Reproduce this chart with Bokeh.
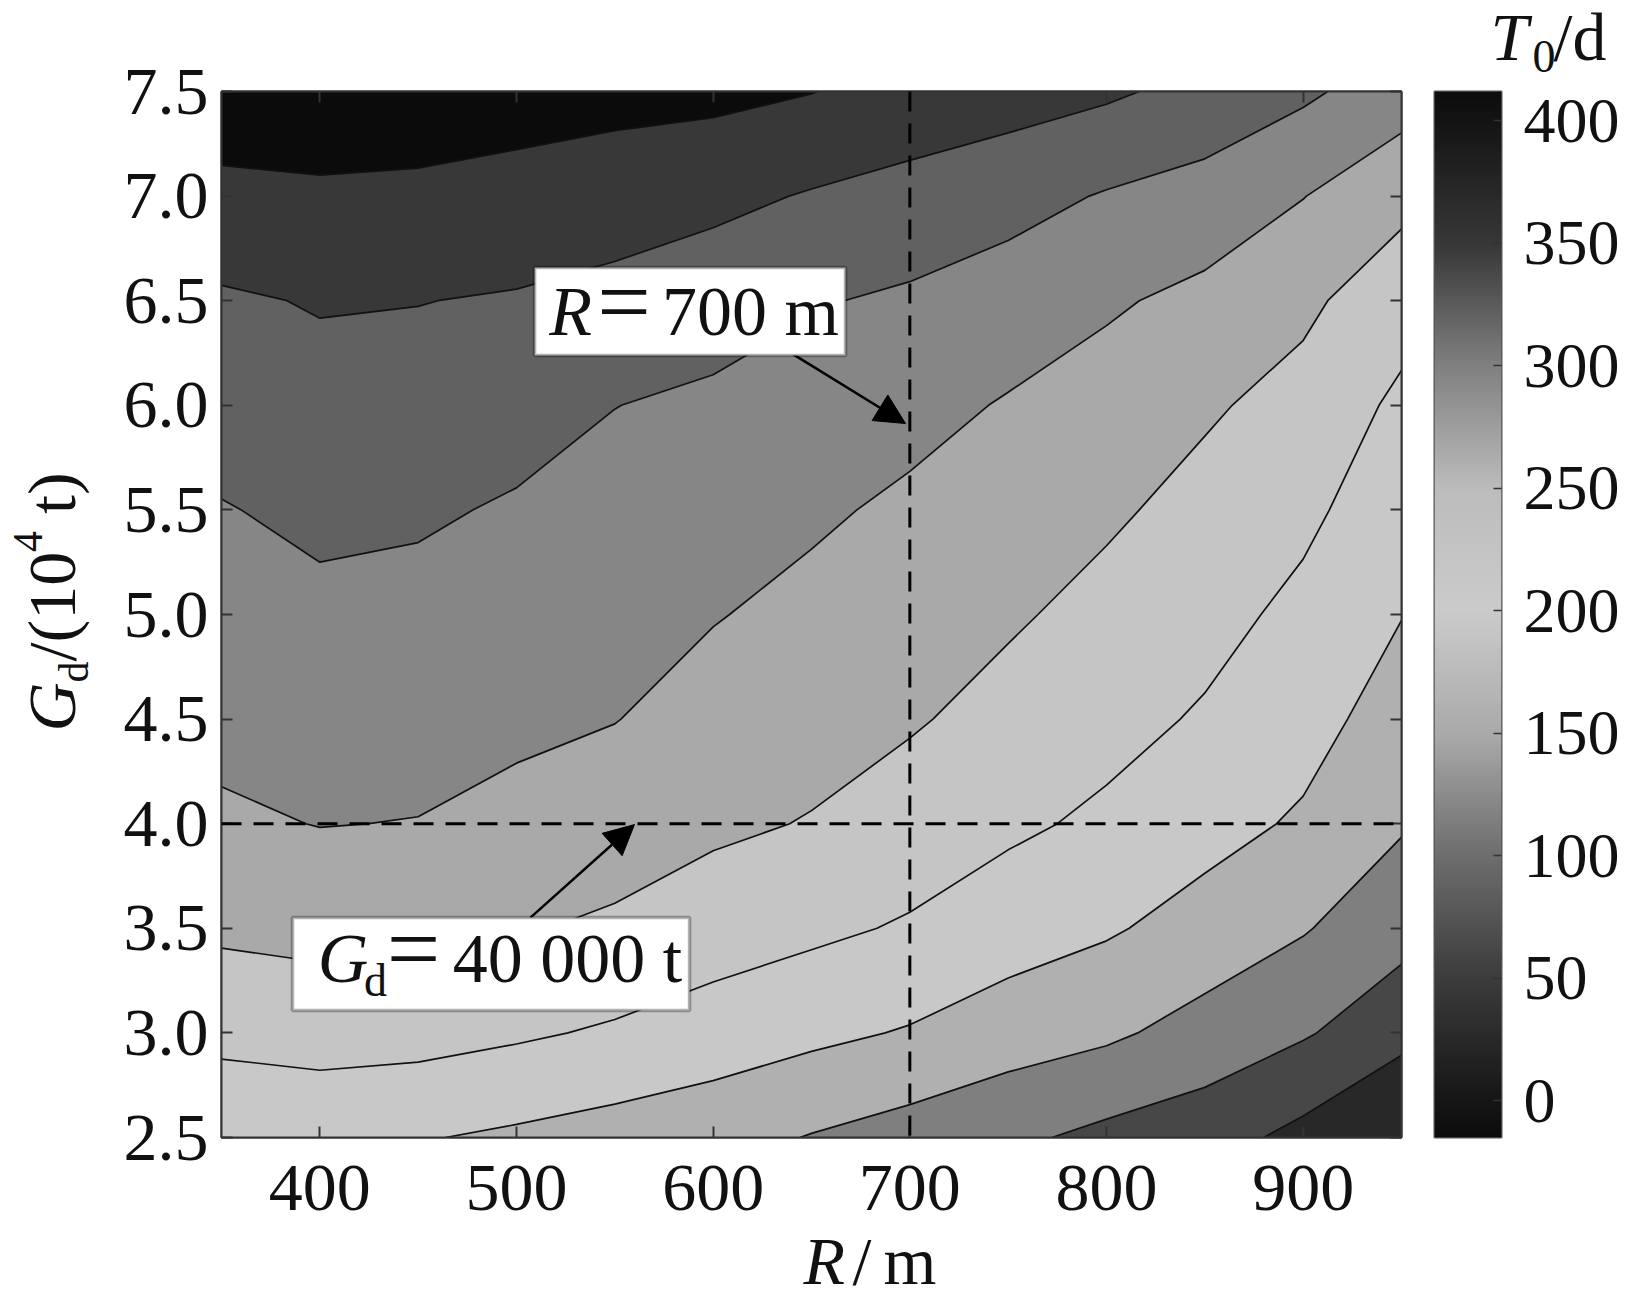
import numpy as np
from bokeh.plotting import figure
from bokeh.layouts import row, column
from bokeh.models import (Label, Span, Arrow, NormalHead, BoxAnnotation, LinearAxis,
                          FixedTicker, LinearColorMapper, Range1d)
from bokeh.embed import file_html
from bokeh.resources import INLINE

# ---------------- data ----------------
R_VALUES = [350, 400, 450, 500, 550, 600, 650, 700, 750, 800, 850, 900, 950]
GD_VALUES = [2.5, 3.0, 3.5, 4.0, 4.5, 5.0, 5.5, 6.0, 6.5, 7.0, 7.5]

# T0 (d) along each Gd row, for R = 350 ... 950
T0_GD_2_5 = [170, 173, 162.5, 153.5, 143.6, 135, 118, 103, 88, 70, 57, 28.6, -15]
T0_GD_3_0 = [210, 215, 214.5, 205.5, 195, 181, 169, 157, 139, 127, 105, 84, 55]
T0_GD_3_5 = [247, 252, 251, 243, 234, 220, 208, 196, 179, 164.5, 145, 123, 93]
T0_GD_4_0 = [274, 281, 279, 269, 259, 247, 238, 222, 207, 193, 173.5, 155, 124]
T0_GD_4_5 = [291, 296, 294, 288, 281, 265, 254, 244, 227, 212, 196, 174, 143]
T0_GD_5_0 = [305, 312, 309, 302, 294, 282, 270, 258.5, 245, 228.5, 212, 191, 161]
T0_GD_5_5 = [318, 328, 325, 316, 307, 298, 286, 273, 261, 246, 228, 208, 178]
T0_GD_6_0 = [337, 345, 342.5, 335, 320.5, 313, 304, 292, 277, 264, 245, 227, 192]
T0_GD_6_5 = [354, 363, 361, 356, 348, 337, 323, 314, 301, 285, 270, 248, 216]
T0_GD_7_0 = [395, 397, 396, 392, 380, 370, 357, 347, 334, 317, 304.5, 281, 251]
T0_GD_7_5 = [412, 412, 411, 410, 412, 410, 401, 385, 377, 366, 348, 327, 299]

LEVELS = [40, 80, 120, 160, 200, 240, 280, 320, 360, 400]
T0_MIN, T0_MAX = -15, 412

X_TICKS = [400, 500, 600, 700, 800, 900]
X_TICK_LABELS = ["400", "500", "600", "700", "800", "900"]
Y_TICKS = [2.5, 3.0, 3.5, 4.0, 4.5, 5.0, 5.5, 6.0, 6.5, 7.0, 7.5]
Y_TICK_LABELS = ["2.5", "3.0", "3.5", "4.0", "4.5", "5.0", "5.5", "6.0", "6.5", "7.0", "7.5"]
CB_TICKS = [0, 50, 100, 150, 200, 250, 300, 350, 400]
CB_TICK_LABELS = ["0", "50", "100", "150", "200", "250", "300", "350", "400"]

MARK_R = 700      # R = 700 m
MARK_GD = 4.0     # Gd = 40 000 t

# ---------------- styles / layout ----------------
FONT = "Liberation Serif"
INK = "#111111"
BAND_COLORS = ["#282828", "#474747", "#7f7f7f", "#b0b0b0", "#c8c8c8", "#c5c5c5",
               "#a9a9a9", "#868686", "#616161", "#383838", "#0b0b0b"]
CB_STOPS = [-15, 0, 50, 100, 150, 200, 250, 300, 350, 400, 412]
CB_GRAYS = [12, 22, 60, 110, 170, 203, 188, 128, 55, 20, 12]
MID = 0.36          # label anchor sits this many em above the text baseline
FRAME_T = 91        # page y of the frame tops
TOTAL_H = 1306
YLAB_W = 110
FRAME_L, FRAME_W, FRAME_H = 221, 1180, 1046
P_BOTTOM = 86
P_W = (FRAME_L - YLAB_W) + FRAME_W + 3
CB_LEFT, CB_RIGHT = 30, 122
CB_W = CB_LEFT + 67 + CB_RIGHT
CB_X0 = YLAB_W + P_W
CBT_H = 85          # title strip above the colour bar


def blank_fig(x0, x1, y0, y1, width, height):
    """Label canvas; its ranges map to page pixels (y downward)."""
    f = figure(x_range=Range1d(x0, x1), y_range=Range1d(y1, y0),
               width=int(width), height=int(height),
               min_border_left=0, min_border_right=0, min_border_top=0, min_border_bottom=0,
               toolbar_location=None, output_backend="svg",
               x_axis_type=None, y_axis_type=None,
               background_fill_color="white", border_fill_color="white")
    f.outline_line_color = None
    f.xgrid.visible = False
    f.ygrid.visible = False
    return f


def lab(fig, x, y, text, size, style="normal", angle=0.0):
    fig.add_layout(Label(x=x, y=y, text=text, text_font=FONT,
                         text_font_size=f"{size}px", text_font_style=style,
                         text_color=INK, angle=angle,
                         text_align="left", text_baseline="middle"))


# ---------------- main contour plot ----------------
Z = np.array([T0_GD_2_5, T0_GD_3_0, T0_GD_3_5, T0_GD_4_0, T0_GD_4_5, T0_GD_5_0,
              T0_GD_5_5, T0_GD_6_0, T0_GD_6_5, T0_GD_7_0, T0_GD_7_5], dtype=float)
fill_levels = [T0_MIN - 5] + LEVELS + [T0_MAX + 5]

p = figure(x_range=Range1d(350, 950), y_range=Range1d(2.5, 7.5),
           frame_width=FRAME_W, frame_height=FRAME_H,
           min_border_left=FRAME_L - YLAB_W, min_border_right=3, min_border_top=FRAME_T,
           min_border_bottom=P_BOTTOM,
           toolbar_location=None, output_backend="svg",
           background_fill_color="white", border_fill_color="white")
p.xgrid.visible = False
p.ygrid.visible = False
p.outline_line_color = "#333333"
p.outline_line_width = 2

p.contour(x=np.array(R_VALUES, dtype=float), y=np.array(GD_VALUES, dtype=float), z=Z,
          levels=fill_levels, fill_color=BAND_COLORS, line_color=INK, line_width=1.7)


def style_axis(ax, ticks, labels, show_labels=True):
    ax.ticker = FixedTicker(ticks=ticks)
    ax.major_label_overrides = {t: s for t, s in zip(ticks, labels)}
    ax.major_tick_in = 11
    ax.major_tick_out = 0
    ax.minor_tick_line_color = None
    ax.major_tick_line_color = "#333333"
    ax.major_tick_line_width = 2
    ax.axis_line_color = "#333333"
    ax.axis_line_width = 2
    ax.major_label_text_font = FONT
    if show_labels:
        ax.major_label_text_font_size = "68px"
        ax.major_label_text_color = INK
    else:
        ax.major_label_text_font_size = "1px"
        ax.major_label_text_color = None
        ax.major_label_standoff = 0


style_axis(p.xaxis[0], X_TICKS, X_TICK_LABELS)
style_axis(p.yaxis[0], Y_TICKS, Y_TICK_LABELS)
p.xaxis[0].major_label_standoff = 28
p.yaxis[0].major_label_standoff = 13
top_ax = LinearAxis()
right_ax = LinearAxis()
style_axis(top_ax, X_TICKS, X_TICK_LABELS, show_labels=False)
style_axis(right_ax, Y_TICKS, Y_TICK_LABELS, show_labels=False)
p.add_layout(top_ax, "above")
p.add_layout(right_ax, "right")

# dashed marker lines
p.add_layout(Span(location=MARK_R, dimension="height", line_color="black",
                  line_width=3, line_dash="20 12"))
p.add_layout(Span(location=MARK_GD, dimension="width", line_color="black",
                  line_width=3, line_dash="20 12"))

# arrows
p.add_layout(Arrow(end=NormalHead(size=30, fill_color="black", line_color="black"),
                   x_start=639.3, y_start=6.252, x_end=697.8, y_end=5.913,
                   line_width=2.5, line_color="black"))
p.add_layout(Arrow(end=NormalHead(size=30, fill_color="black", line_color="black"),
                   x_start=507.1, y_start=3.551, x_end=560.0, y_end=3.996,
                   line_width=2.5, line_color="black"))

# annotation boxes
p.add_layout(BoxAnnotation(left=509.2, right=667.3, bottom=6.238, top=6.659,
                           fill_color="white", fill_alpha=1.0,
                           line_color="black", line_width=3.5))
p.add_layout(BoxAnnotation(left=386.1, right=588.0, bottom=3.107, top=3.552,
                           fill_color="white", fill_alpha=1.0,
                           line_color="black", line_width=3.5))

GD_PER_PX = 5.0 / FRAME_H
# box 1 : R = 700 m  (baseline Gd 6.329)
lab(p, 516.7, 6.329 + MID * 70 * GD_PER_PX, "R", 70, "italic")
lab(p, 541.0, 6.329 + MID * 95 * GD_PER_PX, "=", 95)
lab(p, 574.0, 6.329 + MID * 70 * GD_PER_PX, "700 m", 70)
# box 2 : Gd = 40 000 t  (baseline Gd 3.237)
lab(p, 399.0, 3.237 + MID * 70 * GD_PER_PX, "G", 70, "italic")
lab(p, 422.5, 3.172 + MID * 46 * GD_PER_PX, "d", 46)
lab(p, 434.0, 3.237 + MID * 95 * GD_PER_PX, "=", 95)
lab(p, 467.6, 3.237 + MID * 70 * GD_PER_PX, "40 000 t", 70)

# ---------------- y axis title (own full-height canvas at the left) ----------------
ylab = blank_fig(0, YLAB_W, 0, TOTAL_H, YLAB_W, TOTAL_H)
A = np.pi / 2
BX = 76
lab(ylab, BX - MID * 68, 731.0, "G", 68, "italic", A)
lab(ylab, BX + 13 - MID * 42, 681.9, "d", 42, "normal", A)
lab(ylab, BX - MID * 68, 660.9, "/(10", 68, "normal", A)
lab(ylab, BX - 33 - MID * 42, 551.4, "4", 42, "normal", A)
lab(ylab, BX - MID * 68, 513.4, "t)", 68, "normal", A)

# ---------------- x axis title (canvas under the plot; its frame aligns with the plot frame) ----
XLAB_TOP = FRAME_T + FRAME_H + P_BOTTOM
xlab = blank_fig(FRAME_L, FRAME_L + FRAME_W, XLAB_TOP, TOTAL_H, P_W, TOTAL_H - XLAB_TOP)
xlab.min_border_left = FRAME_L - YLAB_W
xlab.min_border_right = 3
xlab.width = P_W
xlab.frame_width = FRAME_W
lab(xlab, 803, 1285 - MID * 68, "R", 68, "italic")
lab(xlab, 852, 1285 - MID * 68, "/", 68)
lab(xlab, 883, 1285 - MID * 68, "m", 68)

# ---------------- colour bar ----------------
vals = np.linspace(T0_MIN, T0_MAX, 512)
grays = np.interp(vals, CB_STOPS, CB_GRAYS).round().astype(int)
palette = ["#%02x%02x%02x" % (g, g, g) for g in grays]
mapper = LinearColorMapper(palette=palette, low=T0_MIN, high=T0_MAX)

cb = figure(x_range=Range1d(0, 1), y_range=Range1d(T0_MIN, T0_MAX),
            frame_width=67, frame_height=FRAME_H,
            min_border_left=CB_LEFT, min_border_right=CB_RIGHT,
            min_border_top=FRAME_T - CBT_H,
            min_border_bottom=TOTAL_H - FRAME_T - FRAME_H,
            toolbar_location=None, output_backend="svg", x_axis_type=None,
            y_axis_location="right", background_fill_color="white", border_fill_color="white")
cb.xgrid.visible = False
cb.ygrid.visible = False
cb.outline_line_color = "#555555"
cb.outline_line_width = 2
cb.image(image=[vals.reshape(-1, 1)], x=0, y=T0_MIN, dw=1, dh=T0_MAX - T0_MIN,
         color_mapper=mapper)
cax = cb.yaxis[0]
cax.ticker = FixedTicker(ticks=CB_TICKS)
cax.major_label_overrides = {t: s for t, s in zip(CB_TICKS, CB_TICK_LABELS)}
cax.major_tick_in = 8
cax.major_tick_out = 0
cax.minor_tick_line_color = None
cax.major_tick_line_color = "#333333"
cax.major_tick_line_width = 1.5
cax.axis_line_color = None
cax.major_label_text_font = FONT
cax.major_label_text_font_size = "64px"
cax.major_label_text_color = INK
cax.major_label_standoff = 22

# ---------------- title strip above the colour bar: T0/d ----------------
cbt = blank_fig(CB_X0, CB_X0 + CB_W, 0, CBT_H, CB_W, CBT_H)
lab(cbt, 1490, 61 - MID * 68, "T", 68, "italic")
lab(cbt, 1532, 73 - MID * 46, "0", 46)
lab(cbt, 1553, 61 - MID * 68, "/d", 68)

layout = row(ylab, column(p, xlab), column(cbt, row(cb)))
open("out.html", "w").write(file_html(layout, INLINE))
